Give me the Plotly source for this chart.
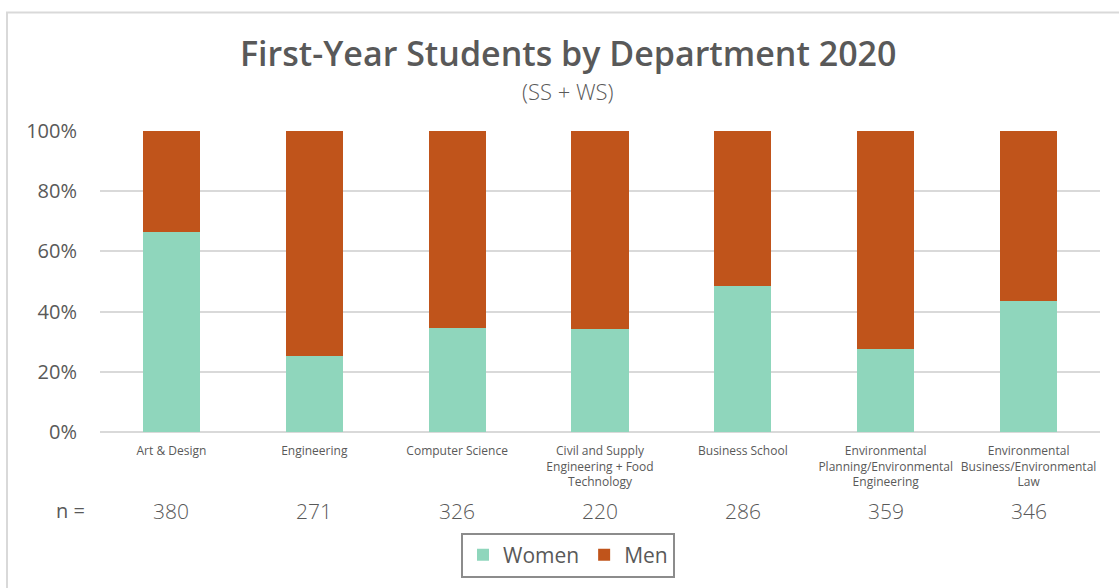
import plotly.graph_objects as go

categories = [
    "Art & Design",
    "Engineering",
    "Computer Science",
    "Civil and Supply<br>Engineering + Food<br>Technology",
    "Business School",
    "Environmental<br>Planning/Environmental<br>Engineering",
    "Environmental<br>Business/Environmental<br>Law",
]
women_pct = [66.3, 25.1, 34.4, 34.1, 48.6, 27.6, 43.6]
men_pct = [round(100 - w, 1) for w in women_pct]
n_values = [380, 271, 326, 220, 286, 359, 346]
y_ticks = [0, 20, 40, 60, 80, 100]
y_ticklabels = [f"{t}%" for t in y_ticks]

W, H = 1119, 588
L, R, T, B = 100, 19, 131, 155
PW, PH = W - L - R, H - T - B

def px_x(px):
    return (px - L) / PW

def px_y(py):
    return (H - B - py) / PH

text_col = "#595959"
font_body = "Open Sans"

fig = go.Figure()
fig.add_trace(go.Bar(x=categories, y=women_pct, name="Women",
                     marker=dict(color="#8FD6BC", line=dict(width=0)), width=0.4))
fig.add_trace(go.Bar(x=categories, y=men_pct, name="Men",
                     marker=dict(color="#C0541B", line=dict(width=0)), width=0.4))

annotations = [
    dict(text="First-Year Students by Department 2020", x=px_x(568), y=px_y(53),
         xref="paper", yref="paper", showarrow=False, xanchor="center", yanchor="middle",
         font=dict(family=font_body, size=34, color=text_col, weight=600)),
    dict(text="(SS + WS)", x=px_x(568), y=px_y(91),
         xref="paper", yref="paper", showarrow=False, xanchor="center", yanchor="middle",
         font=dict(family=font_body, size=22, color=text_col, weight=300)),
    dict(text="n =", x=px_x(70), y=px_y(512),
         xref="paper", yref="paper", showarrow=False, xanchor="center", yanchor="middle",
         font=dict(family=font_body, size=20, color=text_col)),
]
for c, n in zip(categories, n_values):
    annotations.append(dict(text=str(n), x=c, y=px_y(512), xref="x", yref="paper",
                            showarrow=False, xanchor="center", yanchor="middle",
                            font=dict(family=font_body, size=21, color=text_col, weight=300)))

fig.update_layout(
    width=W, height=H,
    margin=dict(l=L, r=R, t=T, b=B, pad=0),
    barmode="stack",
    bargap=0.6,
    plot_bgcolor="white", paper_bgcolor="white",
    font=dict(family=font_body, color=text_col),
    showlegend=True,
    legend=dict(orientation="h", x=px_x(568), y=px_y(555), xanchor="center", yanchor="middle",
                bordercolor="#8c8c8c", borderwidth=2, bgcolor="white",
                font=dict(family=font_body, size=21, color=text_col),
                itemwidth=30, traceorder="normal"),
    annotations=annotations,
    shapes=[dict(type="rect", xref="paper", yref="paper",
                 x0=px_x(7), y0=px_y(600), x1=px_x(1130), y1=px_y(12),
                 line=dict(color="#d9d9d9", width=2), layer="below")],
)
fig.update_xaxes(showgrid=False, showline=False, ticks="", tickfont=dict(size=12, color=text_col),
                 ticklabelstandoff=10)
fig.update_yaxes(range=[0, 100], tickvals=y_ticks, ticktext=y_ticklabels,
                 showgrid=True, gridcolor="#d9d9d9", gridwidth=2, zeroline=True,
                 zerolinecolor="#d9d9d9", zerolinewidth=2, showline=False,
                 tickfont=dict(size=20, color=text_col), ticklabelstandoff=22)

fig.write_html("out.html", config={"displayModeBar": False},
               post_script="document.body.style.margin='0';document.body.style.overflow='hidden';")
